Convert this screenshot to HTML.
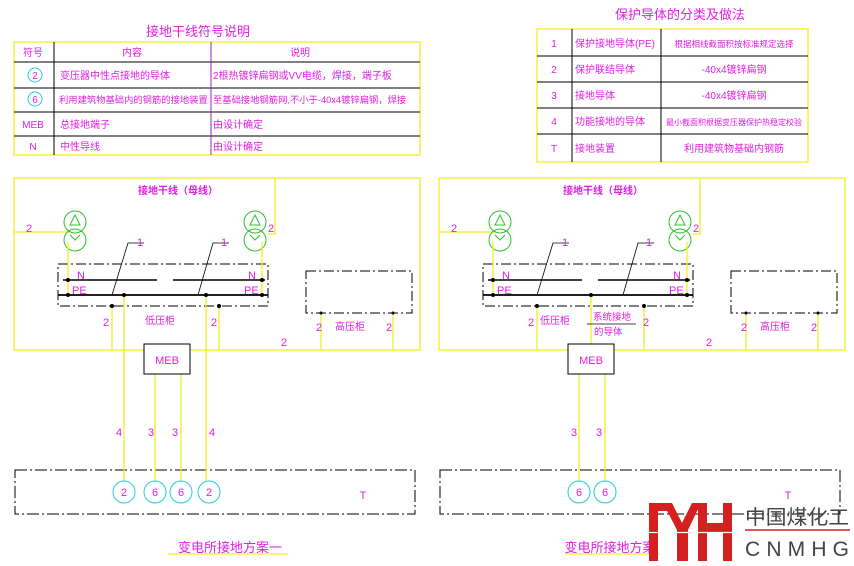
<!DOCTYPE html>
<html><head><meta charset="utf-8"><style>
html,body{margin:0;padding:0;background:#fff;}
svg{display:block;}
text{font-family:"Liberation Sans","Noto Sans CJK SC",sans-serif;fill:#e020e0;}
</style></head><body>
<svg width="854" height="566" viewBox="0 0 854 566" xmlns="http://www.w3.org/2000/svg">
<defs>
<g id="diag">
  <rect x="14" y="178" width="406" height="172" fill="none" stroke="#f0f020" stroke-width="1.3"/>
  <polyline points="275,178 275,234 268,234" fill="none" stroke="#f0f020" stroke-width="1.3"/>
  <line x1="14" y1="232" x2="70" y2="232" stroke="#f0f020" stroke-width="1.3"/>
  <text x="26" y="232" font-size="11">2</text>
  <text x="268" y="232" font-size="11">2</text>
  <text x="178" y="194" font-size="10" text-anchor="middle" font-weight="bold">接地干线（母线）</text>
  <g fill="none" stroke="#30c030" stroke-width="1">
    <circle cx="75" cy="222" r="11"/><circle cx="75" cy="240" r="11"/>
    <circle cx="255" cy="222" r="11"/><circle cx="255" cy="240" r="11"/>
    <polygon points="75,215 70,225 80,225"/><polygon points="255,215 250,225 260,225"/>
    <polyline points="70,235 75,240 80,235"/><polyline points="250,235 255,240 260,235"/>
  </g>
  <rect x="58" y="264" width="210" height="42" fill="none" stroke="#000" stroke-width="1" stroke-dasharray="10,3,2,3"/>
  <line x1="63" y1="280" x2="157" y2="280" stroke="#000" stroke-width="1.5"/>
  <line x1="173" y1="280" x2="265" y2="280" stroke="#000" stroke-width="1.5"/>
  <line x1="58" y1="295" x2="268" y2="295" stroke="#000" stroke-width="1.8"/>
  <text x="77" y="279" font-size="11">N</text>
  <text x="72" y="294" font-size="11">PE</text>
  <text x="248" y="279" font-size="11">N</text>
  <text x="244" y="294" font-size="11">PE</text>
  <g stroke="#f0f020" stroke-width="1.3">
    <line x1="68" y1="242" x2="68" y2="295"/><line x1="262" y1="242" x2="262" y2="295"/>
    <line x1="112" y1="306" x2="112" y2="350"/><line x1="219" y1="306" x2="219" y2="350"/>
    <line x1="321" y1="313" x2="321" y2="350"/><line x1="393" y1="313" x2="393" y2="350"/>
  </g>
  <polyline points="112,295 128,243 144,243" fill="none" stroke="#000" stroke-width="0.8"/>
  <polyline points="198,295 213,243 229,243" fill="none" stroke="#000" stroke-width="0.8"/>
  <text x="137" y="246" font-size="11">1</text>
  <text x="221" y="246" font-size="11">1</text>
  <rect x="306" y="271" width="106" height="42" fill="none" stroke="#000" stroke-width="1" stroke-dasharray="10,3,2,3"/>
  <text x="316" y="331" font-size="11">2</text>
  <text x="386" y="331" font-size="11">2</text>
  <text x="350" y="330" font-size="10" text-anchor="middle">高压柜</text>
  <text x="281" y="346" font-size="11">2</text>
  <text x="103" y="326" font-size="11">2</text>
  <g fill="#000">
    <circle cx="68" cy="280" r="2"/><circle cx="68" cy="295" r="2"/>
    <circle cx="262" cy="280" r="2"/><circle cx="262" cy="295" r="2"/>
    <circle cx="112" cy="306" r="2"/><circle cx="219" cy="306" r="2"/>
    <circle cx="321" cy="313" r="1.5"/><circle cx="393" cy="313" r="1.5"/>
  </g>
  <rect x="15" y="470" width="400" height="44" fill="none" stroke="#000" stroke-width="1" stroke-dasharray="12,3,2,3"/>
  <text x="363" y="499" font-size="11" text-anchor="middle">T</text>
</g>
</defs>

<text x="198" y="36" font-size="13" text-anchor="middle">接地干线符号说明</text>
<rect x="14" y="42" width="406" height="113" fill="none" stroke="#f0f020" stroke-width="1.3"/>
<g stroke="#000" stroke-width="1">
  <line x1="14" y1="62" x2="420" y2="62"/><line x1="14" y1="88" x2="420" y2="88"/>
  <line x1="14" y1="112" x2="420" y2="112"/><line x1="14" y1="136" x2="420" y2="136"/>
  <line x1="54" y1="42" x2="54" y2="155"/>
</g>
<line x1="211" y1="42" x2="211" y2="155" stroke="#a020c0" stroke-width="1"/>
<g font-size="10">
<text x="33" y="56" text-anchor="middle">符号</text>
<text x="132" y="56" text-anchor="middle">内容</text>
<text x="300" y="56" text-anchor="middle">说明</text>
<circle cx="35" cy="75" r="7" fill="none" stroke="#20d0e0"/><text x="35" y="79" text-anchor="middle" font-size="10">2</text>
<circle cx="35" cy="99" r="7" fill="none" stroke="#20d0e0"/><text x="35" y="103" text-anchor="middle" font-size="10">6</text>
<text x="60" y="79">变压器中性点接地的导体</text>
<text x="59" y="103" font-size="9.3">利用建筑物基础内的钢筋的接地装置</text>
<text x="213" y="79">2根热镀锌扁钢或VV电缆，焊接，端子板</text>
<text x="213" y="103" font-size="9.3">至基础接地钢筋网,不小于-40x4镀锌扁钢，焊接</text>
<text x="33" y="128" text-anchor="middle">MEB</text>
<text x="60" y="128">总接地端子</text>
<text x="213" y="128">由设计确定</text>
<text x="33" y="150" text-anchor="middle">N</text>
<text x="60" y="150">中性导线</text>
<text x="213" y="150">由设计确定</text>
</g>

<text x="680" y="19" font-size="13" text-anchor="middle">保护导体的分类及做法</text>
<rect x="537" y="29" width="271" height="133" fill="none" stroke="#f0f020" stroke-width="1.3"/>
<g stroke="#000" stroke-width="1">
  <line x1="537" y1="56" x2="808" y2="56"/><line x1="537" y1="82" x2="808" y2="82"/>
  <line x1="537" y1="108" x2="808" y2="108"/><line x1="537" y1="134" x2="808" y2="134"/>
  <line x1="572" y1="29" x2="572" y2="162"/><line x1="661" y1="29" x2="661" y2="162"/>
</g>
<g font-size="10">
<text x="554" y="47" text-anchor="middle">1</text><text x="575" y="47">保护接地导体(PE)</text><text x="734" y="47" text-anchor="middle" font-size="8.5">根据相线截面积按标准规定选择</text>
<text x="554" y="73" text-anchor="middle">2</text><text x="575" y="73">保护联结导体</text><text x="734" y="73" text-anchor="middle">-40x4镀锌扁钢</text>
<text x="554" y="99" text-anchor="middle">3</text><text x="575" y="99">接地导体</text><text x="734" y="99" text-anchor="middle">-40x4镀锌扁钢</text>
<text x="554" y="125" text-anchor="middle">4</text><text x="575" y="125">功能接地的导体</text><text x="734" y="125" text-anchor="middle" font-size="8">最小截面积根据变压器保护热稳定校验</text>
<text x="554" y="152" text-anchor="middle">T</text><text x="575" y="152">接地装置</text><text x="734" y="152" text-anchor="middle">利用建筑物基础内钢筋</text>
</g>

<use href="#diag"/>
<text x="160" y="324" font-size="10" text-anchor="middle">低压柜</text>
<text x="211" y="326" font-size="11">2</text>
<g stroke="#f0f020" stroke-width="1.3">
  <line x1="124" y1="295" x2="124" y2="482"/><line x1="206" y1="295" x2="206" y2="482"/>
  <line x1="155" y1="374" x2="155" y2="482"/><line x1="181" y1="374" x2="181" y2="482"/>
</g>
<circle cx="124" cy="295" r="2"/><circle cx="206" cy="295" r="2"/>
<rect x="144" y="344" width="46" height="30" fill="#fff" stroke="#000" stroke-width="1"/>
<text x="167" y="364" font-size="11" text-anchor="middle">MEB</text>
<g font-size="11"><text x="116" y="436">4</text><text x="148" y="436">3</text><text x="172" y="436">3</text><text x="209" y="436">4</text></g>
<g fill="#fff" stroke="#20d0e0" stroke-width="1">
<circle cx="124" cy="492" r="11"/><circle cx="155" cy="492" r="11"/><circle cx="181" cy="492" r="11"/><circle cx="209" cy="492" r="11"/>
</g>
<g font-size="11" text-anchor="middle"><text x="124" y="496">2</text><text x="155" y="496">6</text><text x="181" y="496">6</text><text x="209" y="496">2</text></g>
<text x="230" y="552" font-size="13" text-anchor="middle">变电所接地方案一</text>
<line x1="168" y1="554" x2="288" y2="554" stroke="#f0f020" stroke-width="1.3"/>

<g transform="translate(425,0)"><use href="#diag"/></g>
<text x="555" y="324" font-size="10" text-anchor="middle">低压柜</text>
<text x="643" y="326" font-size="11">2</text>
<g stroke="#f0f020" stroke-width="1.3">
  <line x1="591" y1="295" x2="591" y2="344"/>
  <line x1="579" y1="374" x2="579" y2="482"/><line x1="605" y1="374" x2="605" y2="482"/>
</g>
<circle cx="591" cy="295" r="2"/>
<line x1="587" y1="324" x2="636" y2="324" stroke="#000" stroke-width="0.8"/>
<text x="593" y="320" font-size="9.5">系统接地</text>
<text x="594" y="335" font-size="9.5">的导体</text>
<rect x="568" y="344" width="46" height="30" fill="#fff" stroke="#000" stroke-width="1"/>
<text x="591" y="364" font-size="11" text-anchor="middle">MEB</text>
<g font-size="11"><text x="571" y="436">3</text><text x="596" y="436">3</text></g>
<g fill="#fff" stroke="#20d0e0" stroke-width="1"><circle cx="579" cy="492" r="11"/><circle cx="605" cy="492" r="11"/></g>
<g font-size="11" text-anchor="middle"><text x="579" y="496">6</text><text x="605" y="496">6</text></g>
<text x="610" y="552" font-size="13" text-anchor="middle">变电所接地方案</text>
<line x1="565" y1="554" x2="660" y2="554" stroke="#f0f020" stroke-width="1.3"/>

<!-- Logo -->
<g fill="#d42020">
  <rect x="649" y="503" width="9" height="58"/>
  <rect x="649" y="503" width="19" height="8"/>
  <polygon points="663,503 672,503 682,523 692,503 701,503 688,530 677,530"/>
  <rect x="677" y="524" width="11" height="37"/>
  <rect x="698" y="503" width="9" height="58"/>
  <rect x="723" y="503" width="9" height="58"/>
  <rect x="698" y="523" width="34" height="9"/>
</g>
<line x1="649" y1="532.5" x2="733" y2="532.5" stroke="#fff" stroke-width="1.2"/>
<text x="745" y="524" font-size="20" textLength="104" lengthAdjust="spacingAndGlyphs" style="fill:#444">中国煤化工</text>
<line x1="745" y1="530" x2="850" y2="530" stroke="#d42020" stroke-width="1.5"/>
<text x="745" y="556" font-size="21" textLength="104" lengthAdjust="spacing" style="fill:#444">CNMHG</text>
</svg>
</body></html>
